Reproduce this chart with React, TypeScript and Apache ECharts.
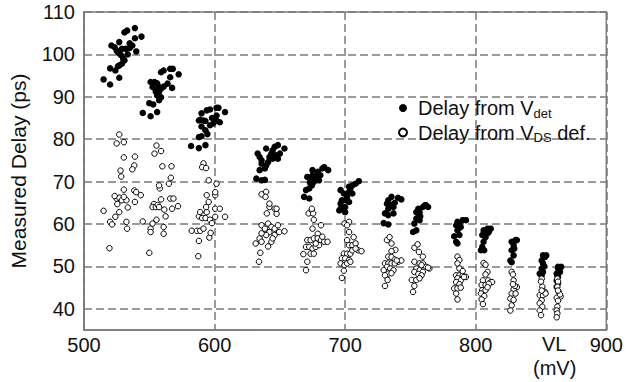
import React, { useEffect, useRef } from "react";
import * as echarts from "echarts";

const xTicks = [500, 600, 700, 800, 900];
const yTicks = [40, 50, 60, 70, 80, 90, 100, 110];
const seriesNames = ["Delay from Vdet", "Delay from VDS def."];

const delayFromVdet: [number, number][] = [
  [515,94.1],[520,92.9],[520,96.7],[524,96.2],[527,94.5],[527,97.4],[526,97.2],[529,97.8],[521,102.1],[523.5,101.7],[525,100.9],[526,100.5],[527,100.2],[528.5,99.8],[530,99.0],[531,98.6],[529,101.3],[532,101.3],[535,101.5],[537,102.1],[540,100.7],[533.5,100],[527,102.9],[535,102.6],[531,105.2],[533,105.6],[539,106.2],[539,103.8],[544,104.2],
  [545,86.2],[551,85.4],[556,86.4],[550,88.5],[553,88.2],[557.5,89.2],[559,89.9],[556,90.3],[555,91.5],[552.5,92.3],[551,93.5],[554,93.5],[557,92.4],[559,91.9],[561,92.4],[564,93.1],[567.5,92.1],[559,95.8],[561,96.2],[566,96.6],[568,96.6],[566,94.6],[572.5,95.3],[555,91.2],[557.5,91.2],[556,93.2],
  [582,78.4],[588,77.9],[593,78.6],[588,80.5],[590,80.7],[594.5,81.2],[593,82.1],[590,83.0],[588,84.4],[591.5,84.4],[593,84.3],[596.5,83.3],[599,83.7],[601.5,84.4],[604,84.0],[601.5,85.6],[594,86.8],[596.5,87.0],[601.5,87.4],[603,87.4],[608,86.4],[589,84.6],[598,85.0],[590,86.1],
  [633,76.6],[634.5,75.8],[636,75.0],[636,74.2],[634.5,72.7],[638.5,73.1],[639.5,73.8],[641,74.6],[642,75.8],[643.5,76.6],[644.5,77.4],[646,78.2],[648.5,78.6],[650,76.6],[648.5,75.4],[653.5,77.8],[639.5,77.8],[632,70.7],[636,70.3],[638.5,70.4],[644.5,75.4],[647,76.2],
  [668.5,66.4],[672.5,66.0],[670,68.0],[672.5,68.4],[674.5,69.1],[673.5,70.3],[671,71.1],[675,71.5],[677.5,71.1],[680,70.3],[679,72.3],[675,72.7],[682.5,73.1],[684,73.4],[687,72.7],[676,69.9],[673,69.8],[681,71.5],
  [696.5,68.0],[699,67.2],[697.5,65.6],[700,65.6],[701.5,66.4],[703,67.6],[704,68.4],[705.5,69.1],[708,69.5],[710.5,70.1],[703,68.8],[705.5,67.2],[696.5,63.6],[700,64.0],[696.5,64.8],[703,65.2],[695.5,63.2],[700,62.8],
  [733,65.6],[735.5,66.4],[740.5,66.2],[743,65.8],[734.5,64.4],[737,64.0],[732,64.8],[735.5,64.4],[733,63.6],[730.5,62.5],[733,62.1],[737,62.5],[729.5,60.2],[733,59.9],[738,65.0],
  [761,64.4],[763.5,64.0],[754.5,62.8],[757,62.8],[756.5,62.4],[754.5,61.3],[757,60.9],[753,60.1],[754.5,58.5],[752,58.1],[757.5,61.8],[756,63.6],[759.5,64.0],[762,64.4],
  [786,60.5],[787.5,60.1],[785,59.7],[788.5,59.3],[792.5,60.9],[790,60.9],[786,58.5],[787.5,57.4],[785,55.8],[786,55.4],[783.5,57.1],[787.5,59.1],
  [806,58.5],[809,58.9],[811.5,58.9],[805,57.4],[807.5,56.9],[806,55.8],[805,54.6],[804,53.8],[806.5,53.8],[809,57.8],[810,58.1],
  [827.5,55.8],[830.5,56.2],[831.5,56.2],[829,55.0],[827.5,53.8],[829,52.6],[826.5,51.4],[827.5,51.0],[829.5,54.2],
  [851.5,52.6],[853,52.2],[854,52.6],[850.5,51.4],[851.5,50.7],[850.5,49.5],[849,48.3],[851.5,48.7],[852.5,50.0],[850.5,47.9],
  [863,49.9],[865.5,49.9],[863,49.5],[862,48.3],[863,47.5],[862,46.7],[863,46.0],[862,45.2],[864.5,48.7],[862.5,47.9]
];

const delayFromVdsDef: [number, number][] = [
  [527,81.1],[525,79.0],[530.5,79.3],[530.5,75.7],[539,75.9],[528,72.6],[528.5,71.2],[538.5,73.8],[537,72.9],[515,63.1],[520,60.5],[521.5,59.9],[519.5,54.3],[524,61.7],[527,62.8],[525,66.0],[527,66.2],[529,65.6],[530.5,68.1],[525.5,64.7],[532.5,65.6],[533.5,63.9],[530.5,66.4],[532.5,60.5],[533,58.9],[538.5,67.9],[540,67.5],[539,65.2],[543.5,66.8],[545,60.6],[523.5,66.6],
  [550,53.2],[551,58.9],[551,58.1],[552.5,60.1],[553.5,64.7],[552.5,64.0],[555,64.0],[556.5,64.5],[555.5,61.0],[559,65.8],[557.5,64.0],[561.5,63.4],[561,59.3],[561,57.7],[562.5,61.8],[558,68.4],[557.5,69.1],[566,66.0],[568.5,66.0],[567.5,63.6],[572,64.2],[565,69.5],[555.5,78.5],[554,76.6],[559,77.2],[560,73.6],[567,73.6],[566.5,70.9],
  [582.5,58.4],[586.5,58.4],[588,56.0],[587.5,52.4],[589,58.4],[591.5,58.9],[596,56.8],[597,57.9],[588,61.8],[589,62.8],[591.5,62.0],[590.5,61.4],[593,61.4],[594,62.8],[593.5,64.0],[595.5,65.2],[594,66.8],[596.5,61.0],[598,60.2],[600.5,66.8],[601.5,69.5],[600.5,63.6],[604,63.6],[608,61.7],[600.5,61.7],[600.5,67.5],[591.5,74.3],[590.5,73.4],[593.5,73.2],[595.5,70.3],
  [640,62.5],[636,59.7],[638.5,58.9],[641,60.1],[643.5,59.3],[646,58.9],[648.5,59.7],[649.5,58.1],[653.5,58.3],[642,58.1],[639.5,57.4],[634.5,56.6],[631.5,55.4],[636,55.8],[643.5,55.8],[641,54.7],[635,53.2],[634,51.1],[646,57.4],[642,64.0],[646,63.6],[647.5,62.4],[636,57.8],[644.5,56.6],[636,67.0],[639.5,67.6],[639,66.4],[642,64.8],[647.5,63.6],
  [672,62.5],[674.5,63.2],[675.5,62.5],[676,61.0],[681.5,59.7],[675,58.9],[679,57.7],[671,56.2],[673.5,56.2],[676,56.6],[679,56.6],[681.5,56.2],[684,55.8],[686.5,55.8],[670,54.6],[672.5,54.6],[675,54.2],[677.5,54.6],[680,55.0],[673.5,53.0],[676,53.0],[668,52.9],[671,51.1],[670,49.1],[677.5,55.4],[682.5,57.0],[674.5,63.6],
  [699.5,60.1],[703,60.5],[701.5,59.7],[703,58.1],[706.5,56.9],[701.5,56.2],[703,55.0],[705.5,55.0],[708,55.4],[710,53.8],[712.5,53.6],[699,53.0],[701.5,53.0],[704,53.0],[697.5,51.9],[700,51.9],[703,51.5],[696.5,50.7],[699.5,50.3],[701.5,50.7],[704,51.1],[699,49.0],[697.5,47.3],[705.5,53.8],[708,54.2],
  [732,56.2],[734,56.9],[735.5,55.4],[738.5,53.9],[735.5,53.6],[733,52.3],[735.5,52.2],[738,51.6],[740.5,51.1],[743,51.4],[730.5,50.7],[733,50.7],[735.5,50.7],[738,50.7],[732,49.9],[734.5,49.5],[737,49.1],[729.5,49.1],[733,48.3],[735.5,48.4],[730.5,47.9],[732.5,46.8],[730.5,45.4],[739.5,51.4],
  [753,54.4],[755.5,55.2],[756.5,53.4],[759.5,52.3],[753,51.1],[757,50.7],[759.5,50.7],[762,49.9],[764.5,49.5],[754.5,49.5],[757,49.1],[759.5,48.7],[753,48.7],[756,48.2],[758.5,47.9],[751,46.8],[754.5,46.8],[757,47.2],[753,45.4],[752,44.0],[758.5,50.3],[763.5,49.7],
  [786,52.3],[787.5,51.5],[786,50.7],[787.5,49.5],[785,47.9],[787.5,47.9],[790,47.9],[792.5,47.5],[786,47.2],[788.5,46.7],[785,46.3],[787.5,45.8],[783.5,44.8],[786,44.8],[788.5,45.0],[785,43.6],[786,42.2],[791,47.5],[790,48.9],
  [806,50.8],[807.5,50.4],[809,48.7],[807.5,48.1],[805.5,46.7],[809.5,46.7],[811.5,46.3],[812.5,46.3],[804.5,45.6],[807.5,45.6],[810,45.9],[805,44.4],[807.5,44.4],[804,43.6],[806.5,43.0],[804.5,42.2],[805.5,41.1],[809,45.1],
  [827.5,48.7],[828.5,48.1],[829,46.7],[831.5,45.1],[829,44.6],[827.5,43.6],[830.5,43.6],[826.5,42.4],[829,42.1],[827.5,40.8],[826.5,39.6],[830,45.4],[828.5,45.8],
  [850.5,47.1],[850,46.4],[851,45.2],[853,44.0],[849,43.2],[851.5,43.2],[850.5,42.0],[849,41.3],[851,40.5],[849,39.6],[850,38.5],[853.5,43.6],[850.5,44.3],
  [862.5,47.1],[863,46.4],[862.5,45.2],[863.5,44.0],[865,42.9],[862,42.6],[863,41.9],[862.5,40.5],[862,39.6],[862.5,38.9],[862,38.0],[864.5,43.4],[863,44.3]
];

const FONT = "'Liberation Sans', Arial, Helvetica, sans-serif";
const GRID_COLOR = "#7a7a7a";

export default function App() {
  const ref = useRef<HTMLDivElement>(null);
  useEffect(() => {
    if (!ref.current) return;
    const chart = echarts.init(ref.current, undefined, { renderer: "svg" });
    const dashed = { color: GRID_COLOR, width: 1.5, type: [8, 4] as number[] };
    chart.setOption({
      animation: false,
      backgroundColor: "#ffffff",
      textStyle: { fontFamily: FONT },
      grid: {
        left: 79, right: 19, top: 12, bottom: 52,
        show: true, borderColor: GRID_COLOR, borderWidth: 1.5, backgroundColor: "transparent",
      },
      xAxis: {
        type: "value",
        min: xTicks[0], max: xTicks[xTicks.length - 1], interval: 100,
        axisLine: { show: true, lineStyle: { color: GRID_COLOR, width: 1.5 } },
        axisTick: { show: false },
        axisLabel: { color: "#111", fontSize: 20, fontFamily: FONT, margin: 5 },
        splitLine: { show: true, lineStyle: dashed },
      },
      yAxis: {
        type: "value",
        min: 35, max: 110,
        name: "Measured Delay (ps)",
        nameLocation: "middle",
        nameGap: 55,
        nameTextStyle: { fontSize: 21, color: "#111", fontFamily: FONT },
        axisLine: { show: true, lineStyle: { color: GRID_COLOR, width: 1.5 } },
        axisTick: { show: false, customValues: yTicks },
        axisLabel: { color: "#111", fontSize: 20, fontFamily: FONT, margin: 9, customValues: yTicks },
        splitLine: { show: true, lineStyle: dashed },
      },
      legend: {
        orient: "vertical",
        left: 398, top: 98, padding: 0,
        itemWidth: 20, itemHeight: 8, itemGap: 3,
        data: [
          { name: seriesNames[0], icon: "circle" },
          { name: seriesNames[1], icon: "circle" },
        ],
        formatter: (name: string) =>
          name === seriesNames[0] ? "Delay from V{sub|det}" : "Delay from V{sub|DS} def.",
        textStyle: {
          fontSize: 20, color: "#111", fontFamily: FONT,
          rich: { sub: { fontSize: 13, color: "#111", fontFamily: FONT, padding: [10, 0, 0, 0] } },
        },
      },
      graphic: [
        { type: "text", left: 542, top: 334, style: { text: "VL", fontSize: 20, fill: "#111", fontFamily: FONT } },
        { type: "text", left: 533, top: 358, style: { text: "(mV)", fontSize: 20, fill: "#111", fontFamily: FONT } },
      ],
      series: [
        {
          name: seriesNames[0], type: "scatter", data: delayFromVdet,
          symbol: "circle", symbolSize: 6.5,
          itemStyle: { color: "#000", opacity: 1 },
        },
        {
          name: seriesNames[1], type: "scatter", data: delayFromVdsDef,
          symbol: "circle", symbolSize: 5.5,
          itemStyle: { color: "#fff", borderColor: "#000", borderWidth: 1, opacity: 1 },
        },
      ],
    });
    return () => chart.dispose();
  }, []);
  return <div ref={ref} style={{ width: 626, height: 382, position: "absolute", left: 0, top: 0 }} />;
}
